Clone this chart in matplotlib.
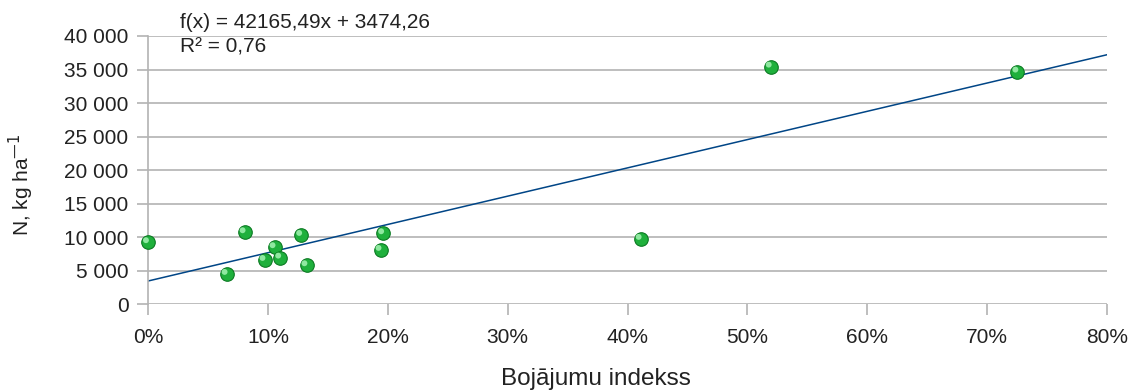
import matplotlib.pyplot as plt
import matplotlib.transforms as mtransforms
import numpy as np
from matplotlib.ticker import FuncFormatter

plt.rcParams['font.family'] = ['Liberation Sans', 'DejaVu Sans']

# Bojājumu indekss (daļa) un N, kg/ha
indekss = [0.0, 0.0656, 0.0806, 0.0972, 0.1056, 0.1103, 0.1278, 0.1322,
           0.194, 0.1962, 0.411, 0.5195, 0.7253]
slapeklis = [9250, 4520, 10730, 6600, 8500, 6950, 10330, 5810,
             8100, 10580, 9740, 35420, 34680]

# trenda līnija
slipums = 42165.49
brivais = 3474.26
x_ticks = [0, 0.1, 0.2, 0.3, 0.4, 0.5, 0.6, 0.7, 0.8]
y_ticks = [0, 5000, 10000, 15000, 20000, 25000, 30000, 35000, 40000]

fig = plt.figure(figsize=(11.31, 3.9), dpi=100)
ax = fig.add_axes([0.1309, 0.2197, 0.8479, 0.688])

ax.set_xlim(0, 0.8)
ax.set_ylim(0, 40000)

# režģis
for y in y_ticks:
    ax.axhline(y, color='#b3b3b3', lw=1.2, zorder=1)

xl = np.array([0, 0.8])
ax.plot(xl, slipums * xl + brivais, color='#004586', lw=1.1, zorder=2)

# punkti ar nelielu "spīdumu"
ax.scatter(indekss, slapeklis, s=95, color='#1fb03c', edgecolors='#0b7a22',
           linewidths=0.8, zorder=3, clip_on=False)
offs = mtransforms.ScaledTranslation(-1.5 / 72, 1.5 / 72, fig.dpi_scale_trans)
ax.scatter(indekss, slapeklis, s=18, color='#8fe8a0', edgecolors='none',
           zorder=4, clip_on=False, transform=ax.transData + offs)

for s in ['top', 'right', 'bottom']:
    ax.spines[s].set_visible(False)
ax.spines['left'].set_color('#b3b3b3')
ax.spines['left'].set_linewidth(1.2)

ax.set_xticks(x_ticks)
ax.set_yticks(y_ticks)
ax.xaxis.set_major_formatter(FuncFormatter(lambda v, p: f"{v * 100:.0f}%"))
ax.yaxis.set_major_formatter(FuncFormatter(lambda v, p: f"{int(v):,}".replace(",", " ")))
ax.tick_params(axis='both', colors='#b3b3b3', labelcolor='#222222',
               labelsize=15, length=8, width=1.2)
ax.tick_params(axis='x', pad=9)
ax.tick_params(axis='y', pad=6)

fig.text(596 / 1131, 1 - 385 / 390, "Bojājumu indekss", fontsize=17.5,
         color='#222222', ha='center', va='baseline')
fig.text(21 / 1131, 1 - 185 / 390, "N, kg ha$^{\u2014 1}$", fontsize=15,
         color='#222222', ha='center', va='center', rotation=90)

fig.text(180 / 1131, 1 - 23 / 390, "f(x) = 42165,49x + 3474,26", fontsize=15,
         color='#222222', va='center')
fig.text(180 / 1131, 1 - 47 / 390, "R² = 0,76", fontsize=15,
         color='#222222', va='center')

fig.savefig("out.png", dpi=100)
